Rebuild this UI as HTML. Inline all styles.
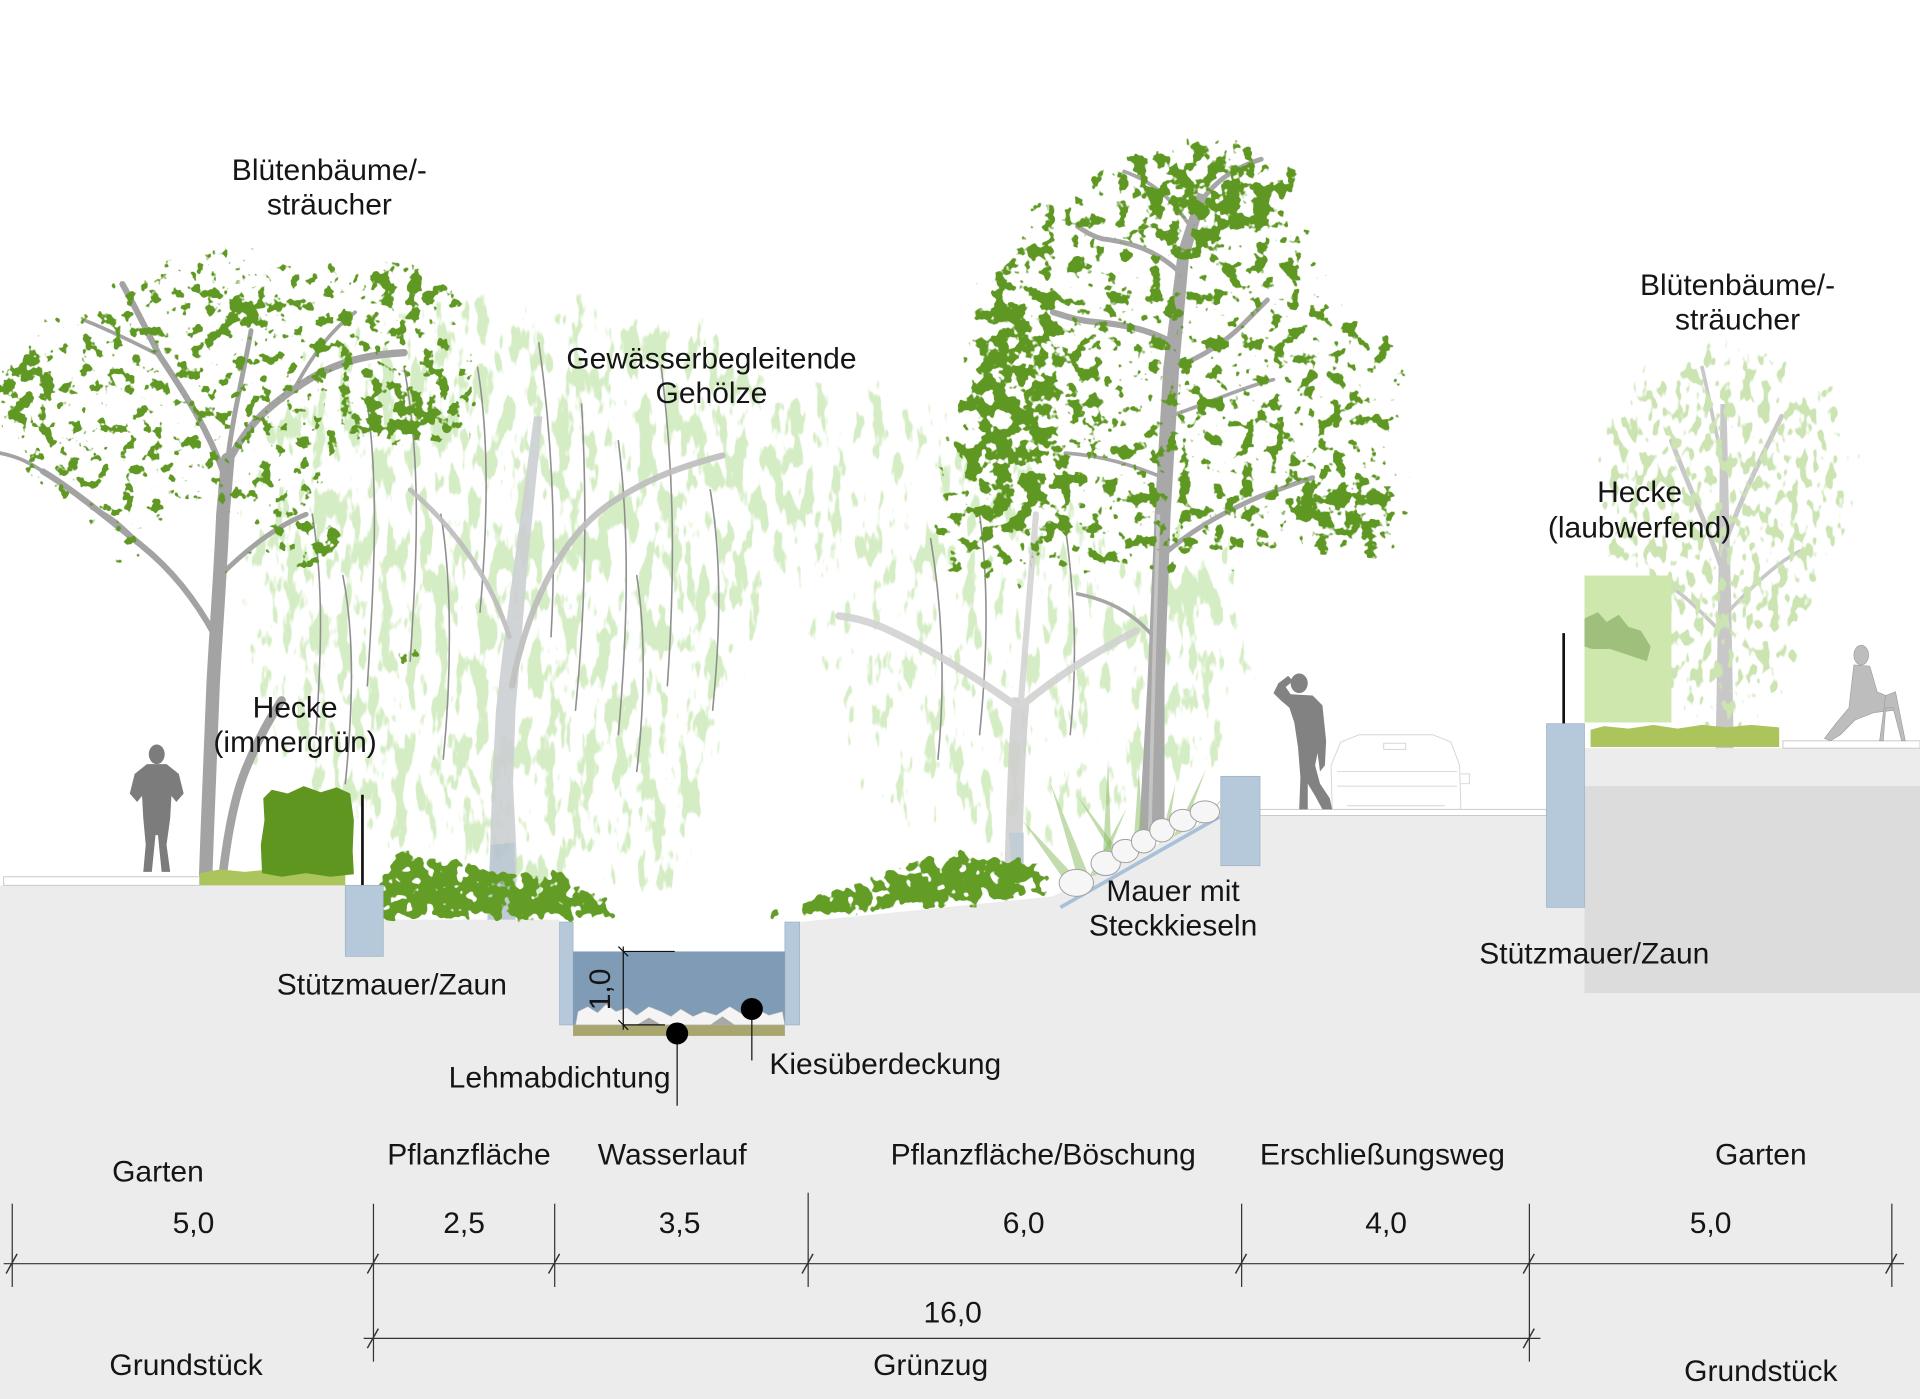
<!DOCTYPE html>
<html><head><meta charset="utf-8"><style>
html,body{margin:0;padding:0;background:#fff;}
svg{display:block;}
text{font-family:"Liberation Sans",Arial,sans-serif;font-size:24.5px;fill:#151515;}
</style></head><body>
<svg xmlns="http://www.w3.org/2000/svg" width="1920" height="1399" viewBox="0 0 1568 1142.5" preserveAspectRatio="none">
<defs>
<filter id="fDark" filterUnits="userSpaceOnUse" x="0" y="0" width="1568" height="1143" color-interpolation-filters="sRGB">
 <feGaussianBlur in="SourceAlpha" stdDeviation="10" result="b"/>
 <feTurbulence type="fractalNoise" baseFrequency="0.09" numOctaves="3" seed="7" result="n"/>
 <feComposite in="n" in2="b" operator="arithmetic" k1="0" k2="1" k3="0.72" k4="-1.08" result="c"/>
 <feComponentTransfer in="c" result="t"><feFuncA type="linear" slope="20" intercept="-1.2"/></feComponentTransfer>
 <feFlood flood-color="#5f9822" result="col"/>
 <feComposite in="col" in2="t" operator="in"/>
</filter>
<filter id="fTall" filterUnits="userSpaceOnUse" x="0" y="0" width="1568" height="1143" color-interpolation-filters="sRGB">
 <feGaussianBlur in="SourceAlpha" stdDeviation="10" result="b"/>
 <feTurbulence type="fractalNoise" baseFrequency="0.08" numOctaves="3" seed="21" result="n"/>
 <feComposite in="n" in2="b" operator="arithmetic" k1="0" k2="1" k3="0.72" k4="-1.08" result="c"/>
 <feComponentTransfer in="c" result="t"><feFuncA type="linear" slope="20" intercept="-1.2"/></feComponentTransfer>
 <feFlood flood-color="#5e9721" result="col"/>
 <feComposite in="col" in2="t" operator="in"/>
</filter>
<filter id="fHaze" filterUnits="userSpaceOnUse" x="0" y="0" width="1568" height="1143" color-interpolation-filters="sRGB">
 <feGaussianBlur in="SourceAlpha" stdDeviation="18" result="b"/>
 <feTurbulence type="fractalNoise" baseFrequency="0.09 0.03" numOctaves="3" seed="11" result="n"/>
 <feComposite in="n" in2="b" operator="arithmetic" k1="0" k2="1" k3="0.72" k4="-1.03" result="c"/>
 <feComponentTransfer in="c" result="t"><feFuncA type="linear" slope="14" intercept="-0.7"/></feComponentTransfer>
 <feFlood flood-color="#d5edc4" result="col"/>
 <feComposite in="col" in2="t" operator="in"/>
</filter>
<filter id="fLight" filterUnits="userSpaceOnUse" x="0" y="0" width="1568" height="1143" color-interpolation-filters="sRGB">
 <feGaussianBlur in="SourceAlpha" stdDeviation="14" result="b"/>
 <feTurbulence type="fractalNoise" baseFrequency="0.13 0.07" numOctaves="2" seed="5" result="n"/>
 <feComposite in="n" in2="b" operator="arithmetic" k1="0" k2="1" k3="0.72" k4="-1.02" result="c"/>
 <feComponentTransfer in="c" result="t"><feFuncA type="linear" slope="14" intercept="-0.7"/></feComponentTransfer>
 <feFlood flood-color="#cbe4b2" result="col"/>
 <feComposite in="col" in2="t" operator="in"/>
</filter>
<filter id="fFern" filterUnits="userSpaceOnUse" x="0" y="0" width="1568" height="1143" color-interpolation-filters="sRGB">
 <feGaussianBlur in="SourceAlpha" stdDeviation="5" result="b"/>
 <feTurbulence type="fractalNoise" baseFrequency="0.11" numOctaves="2" seed="3" result="n"/>
 <feComposite in="n" in2="b" operator="arithmetic" k1="0" k2="1" k3="0.72" k4="-0.98" result="c"/>
 <feComponentTransfer in="c" result="t"><feFuncA type="linear" slope="20" intercept="-1.2"/></feComponentTransfer>
 <feFlood flood-color="#639d26" result="col"/>
 <feComposite in="col" in2="t" operator="in"/>
</filter>
</defs>

<rect x="0" y="0" width="1568" height="1142.5" fill="#ffffff"/>

<!-- willow haze -->
<g filter="url(#fHaze)">
 <polygon fill="#000" fill-opacity="0.78" points="205,320 240,285 290,258 350,238 420,232 480,240 540,245 600,262 640,292 660,335 652,385 642,435 632,500 612,560 602,620 592,680 565,745 520,748 480,705 460,745 420,748 380,722 340,705 300,705 260,695 232,645 214,565 203,485 198,400"/>
 <polygon fill="#000" fill-opacity="0.7" points="620,322 680,302 740,310 790,330 840,358 880,380 920,420 960,448 1005,470 1015,520 1000,565 990,610 970,650 930,680 880,700 830,715 790,705 745,695 705,655 682,600 662,540 642,470 630,400"/>
 <polygon fill="#000" fill-opacity="0.55" points="940,380 990,400 1030,430 1040,500 1030,570 1010,630 980,650 950,600"/>
 <polygon fill="#000" fill-opacity="0.5" points="170,430 215,430 220,520 225,640 210,700 180,700 170,600"/>
</g>

<!-- willow hanging branches -->
<g fill="none" stroke="#8f8f8f" stroke-width="1.3" stroke-linecap="round">
 <path d="M300,330 C310,400 305,480 300,560"/>
 <path d="M330,300 C345,380 340,460 335,540"/>
 <path d="M255,420 C265,480 262,540 258,600"/>
 <path d="M390,300 C400,360 398,430 392,500"/>
 <path d="M440,280 C450,350 455,430 450,520"/>
 <path d="M475,330 C480,420 478,500 470,580"/>
 <path d="M505,360 C515,440 512,520 505,600"/>
 <path d="M540,300 C550,380 552,460 545,560"/>
 <path d="M580,400 C590,460 588,520 582,580"/>
 <path d="M360,420 C370,480 368,560 362,620"/>
 <path d="M280,470 C290,520 288,580 282,640"/>
 <path d="M520,470 C528,520 526,580 520,630"/>
 <path d="M760,440 C770,500 772,560 766,620"/>
 <path d="M800,420 C808,480 806,540 800,600"/>
 <path d="M870,430 C878,490 880,540 874,600"/>
</g>
<!-- willow trunks -->
<g opacity="0.9">
 <polygon fill="#cdd0d3" points="398,752 421,752 422,700 419,640 421,580 426,520 431,460 437,400 443,340 436,340 428,400 420,460 412,520 405,580 402,640 400,700"/>
 <path d="M401,690 L420,688 L421,752 L398,752 Z" fill="#b8c5d0"/>
 <path d="M418,560 C430,500 455,440 500,410 C530,390 560,380 590,372" stroke="#bdbdbd" stroke-width="5" fill="none" stroke-linecap="round"/>
 <path d="M416,520 C400,470 370,430 335,400" stroke="#bdbdbd" stroke-width="4" fill="none" stroke-linecap="round"/>
 <path d="M827,718 C829,660 830,610 834,570" stroke="#d0d0d0" stroke-width="14" fill="none"/>
 <path d="M827,720 L836,720 L836,680 L824,680 Z" fill="#bcc8d2"/>
 <path d="M832,578 C800,555 760,530 720,512 C705,506 695,504 685,503" stroke="#d2d2d2" stroke-width="6" fill="none" stroke-linecap="round"/>
 <path d="M836,575 C860,555 890,535 928,515" stroke="#d2d2d2" stroke-width="6" fill="none" stroke-linecap="round"/>
 <path d="M834,570 C838,520 842,470 846,420" stroke="#d4d4d4" stroke-width="5" fill="none" stroke-linecap="round"/>
</g>

<!-- left tree branches -->
<g fill="none" stroke="#a3a3a3" stroke-linecap="round">
 <path d="M168,714 C170,660 172,600 174,560 C176,520 180,470 182,420 C184,400 185,385 186,375" stroke-width="11"/>
 <path d="M182,714 C186,680 192,650 200,630 C208,610 218,590 230,572" stroke-width="7"/>
 <path d="M185,380 C200,350 215,335 240,318 C265,300 290,290 330,288" stroke-width="6"/>
 <path d="M184,390 C170,350 150,320 130,290 C120,270 110,250 100,232" stroke-width="5"/>
 <path d="M186,375 C190,340 200,300 205,270" stroke-width="4"/>
 <path d="M176,520 C160,490 140,465 115,445 C90,425 60,400 35,385" stroke-width="5"/>
 <path d="M115,445 C100,430 90,420 75,415" stroke-width="3"/>
 <path d="M180,470 C200,450 225,430 250,420" stroke-width="4"/>
 <path d="M130,290 C110,280 90,270 70,262" stroke-width="3"/>
 <path d="M240,318 C255,290 270,270 290,255" stroke-width="3"/>
 <path d="M35,385 C20,375 10,372 0,370" stroke-width="3"/>
</g>
<!-- left tree crown -->
<g filter="url(#fDark)" fill="#000">
 <polygon fill-opacity="0.75" points="0,285 30,265 70,240 100,220 130,205 170,198 210,200 250,208 290,212 330,210 365,218 385,240 380,270 395,300 400,330 390,360 360,372 320,368 290,375 270,400 250,420 270,440 290,455 270,472 230,470 200,455 185,430 170,410 150,420 140,450 110,472 90,462 70,432 40,412 20,396 0,392"/>
 <ellipse cx="195" cy="255" rx="25" ry="16"/>
 <ellipse cx="330" cy="232" rx="32" ry="16"/>
 <ellipse cx="15" cy="320" rx="25" ry="32"/>
 <ellipse cx="330" cy="340" rx="45" ry="20"/>
 <ellipse cx="265" cy="438" rx="28" ry="14"/>
 <ellipse cx="335" cy="535" rx="25" ry="18" fill-opacity="0.85"/>
 <ellipse cx="183" cy="470" rx="8" ry="25" fill-opacity="0.9"/>
</g>

<!-- tall tree -->
<g fill="none" stroke="#a6a6a6" stroke-linecap="round">
 <path d="M958,280 C940,270 920,265 895,263 C880,262 870,258 860,255" stroke-width="5"/>
 <path d="M963,222 C945,205 925,198 900,195 C890,192 885,188 880,185" stroke-width="4"/>
 <path d="M960,300 C980,292 1000,280 1015,265 C1025,255 1030,250 1035,245" stroke-width="4"/>
 <path d="M948,455 C970,435 995,420 1030,405 C1050,398 1062,393 1072,390" stroke-width="4"/>
 <path d="M975,172 C990,150 1005,138 1030,130" stroke-width="4"/>
 <path d="M970,182 C955,160 940,148 918,140" stroke-width="3"/>
 <path d="M955,340 C985,330 1010,318 1040,310" stroke-width="3"/>
 <path d="M950,390 C925,380 900,372 870,370" stroke-width="3"/>
 <path d="M942,520 C925,500 905,490 880,485" stroke-width="3"/>
</g>
<polygon fill="#a8a8a8" points="930,684 951,684 951,560 956,420 963,300 971,210 986,160 978,157 962,205 950,300 943,420 937,560"/>
<path d="M939,680 L943,520 L946,420" stroke="#c4c4c4" stroke-width="3" fill="none"/>
<g filter="url(#fTall)" fill="#000">
 <polygon fill-opacity="0.78" points="985,104 1030,112 1075,132 1060,170 1085,200 1095,235 1125,255 1150,285 1150,330 1140,360 1158,395 1160,430 1140,468 1090,462 1050,452 1010,468 960,478 920,480 880,472 840,480 800,478 758,472 755,430 768,395 760,360 778,320 788,270 800,210 830,175 865,145 905,122 945,108"/>
 <ellipse cx="830" cy="330" rx="42" ry="105" fill-opacity="0.92"/>
 <ellipse cx="990" cy="160" rx="55" ry="40" fill-opacity="0.9"/>
 <ellipse cx="1090" cy="420" rx="45" ry="25" fill-opacity="0.88"/>
</g>

<!-- right tree -->
<g fill="none" stroke="#c8c8c8" stroke-linecap="round">
 <path d="M1408,470 C1395,430 1380,400 1365,360" stroke-width="4"/>
 <path d="M1410,440 C1425,400 1440,370 1455,340" stroke-width="4"/>
 <path d="M1408,380 C1400,350 1395,320 1390,300" stroke-width="3"/>
 <path d="M1409,520 C1390,500 1370,480 1350,470" stroke-width="3"/>
 <path d="M1411,500 C1430,480 1450,460 1470,450" stroke-width="3"/>
</g>
<polygon fill="#c8c8c8" points="1401,619 1416,619 1414,500 1412,420 1410,330 1405,330 1404,420 1403,500"/>
<g filter="url(#fLight)" fill="#000">
 <polygon fill-opacity="0.75" points="1300,340 1330,300 1370,280 1420,275 1470,290 1510,320 1530,360 1520,420 1500,470 1480,520 1460,570 1430,600 1380,600 1340,560 1310,500 1295,440 1290,390"/>
</g>
<!-- right hedge -->
<rect x="1294" y="470" width="71" height="120" fill="#cde7ad"/>
<path d="M1294,505 L1305,500 L1312,508 L1322,502 L1330,512 L1340,515 L1348,528 L1345,540 L1330,535 L1315,530 L1300,530 L1294,528 Z" fill="#9fbf7d"/>
<path d="M1299,596 L1310,593 L1330,595 L1350,592 L1370,595 L1390,592 L1410,594 L1430,592 L1453,594 L1453,610 L1299,610 Z" fill="#abc45c"/>

<!-- bamboo grass near tall tree -->
<g fill="#8fc06c" fill-opacity="0.55">
 <path d="M880,716 L858,640 L888,712 Z"/>
 <path d="M900,712 L905,620 L908,712 Z"/>
 <path d="M915,708 L880,650 L922,706 Z"/>
 <path d="M955,690 L985,628 L962,690 Z"/>
 <path d="M965,688 L1000,650 L970,692 Z"/>
 <path d="M925,700 L930,630 L935,700 Z"/>
 <path d="M870,720 L835,670 L878,716 Z"/>
 <path d="M945,695 L960,640 L952,696 Z"/>
 <path d="M890,715 L920,660 L897,716 Z"/>
</g>

<!-- ground -->
<polygon fill="#ececec" points="0,723 313,723 313,751 457,751 457,753 468,753 468,777 641,777 641,753 653,753 860,732 997,664 997,666 1263,666 1263,611 1568,611 1568,1142.5 0,1142.5"/>
<rect x="1294" y="642" width="274" height="169" fill="#dcdcdc"/>

<!-- path strips -->
<rect x="3" y="716" width="160" height="7" fill="#fff" stroke="#c9c9c9" stroke-width="0.8"/>
<rect x="1029" y="661" width="234" height="5" fill="#fff" stroke="#c9c9c9" stroke-width="0.8"/>
<rect x="1456" y="605" width="112" height="6" fill="#fff" stroke="#c9c9c9" stroke-width="0.8"/>
<!-- left green strip & hedge -->
<path d="M163,713 L180,710 L200,712 L230,709 L260,711 L282,710 L282,723 L163,723 Z" fill="#abc45c"/>
<path d="M215,652 L222,645 L235,648 L248,642 L262,647 L275,643 L286,648 L289,670 L288,695 L289,714 L270,716 L250,713 L230,716 L214,713 L213,690 L216,670 Z" fill="#5e9620"/>
<line x1="296" y1="649" x2="296" y2="723" stroke="#111" stroke-width="2.2"/>
<line x1="1277" y1="517" x2="1277" y2="591" stroke="#111" stroke-width="2.2"/>

<!-- ferns -->
<g filter="url(#fFern)" fill="#000">
 <polygon points="300,752 302,728 315,712 335,703 360,698 385,703 405,710 425,712 445,716 470,722 490,730 503,742 505,752"/>
 <ellipse cx="330" cy="702" rx="14" ry="10"/>
 <ellipse cx="455" cy="718" rx="14" ry="9"/>
 <polygon points="650,752 652,738 668,726 690,722 712,718 735,705 760,698 790,696 815,700 840,702 858,712 862,728 840,734 800,738 760,742 720,746 680,750"/>
 <ellipse cx="634" cy="744" rx="8" ry="8"/>
</g>

<!-- walls -->
<g fill="#b5c9db" stroke="#9db2c6" stroke-width="0.6">
 <rect x="282" y="723" width="31" height="58"/>
 <rect x="457" y="753" width="11" height="84"/>
 <rect x="641" y="753" width="12" height="84"/>
 <rect x="997" y="634" width="32" height="73"/>
 <rect x="1263" y="591" width="31" height="150"/>
</g>
<!-- water channel -->
<rect x="468" y="777" width="173" height="60" fill="#7f9bb6"/>
<rect x="468" y="837" width="173" height="9" fill="#a9a56f"/>
<path d="M470,837 L472,826 L480,822 L488,827 L495,820 L503,826 L512,823 L520,829 L530,822 L540,826 L548,830 L556,824 L566,830 L575,826 L585,829 L596,822 L606,828 L618,824 L628,829 L639,826 L641,837 Z" fill="#f4f4f4" stroke="#b0b0b0" stroke-width="0.5"/>
<path d="M520,837 L530,831 L540,837 Z M580,837 L590,830 L600,837 Z" fill="#a8a8a8"/>
<!-- 1,0 dim -->
<g stroke="#111" stroke-width="1">
 <line x1="509" y1="773" x2="509" y2="841"/>
 <line x1="509" y1="777" x2="551" y2="777"/>
 <line x1="509" y1="837" x2="543" y2="837"/>
 <line x1="505" y1="773" x2="513" y2="781"/>
 <line x1="505" y1="833" x2="513" y2="841"/>
</g>
<text transform="translate(498,808) rotate(-90)" text-anchor="middle" font-size="24">1,0</text>
<!-- callouts -->
<line x1="553" y1="844" x2="553" y2="903" stroke="#111" stroke-width="1"/>
<circle cx="553" cy="844" r="9" fill="#000"/>
<line x1="614" y1="824" x2="614" y2="866" stroke="#111" stroke-width="1"/>
<circle cx="614" cy="824" r="9" fill="#000"/>

<!-- sloped stone wall -->
<line x1="866" y1="741" x2="996" y2="667" stroke="#a9c1d8" stroke-width="3"/>
<g fill="#f6f6f6" stroke="#a0a0a0" stroke-width="0.8">
 <ellipse cx="879" cy="721" rx="14" ry="11"/>
 <ellipse cx="903" cy="705" rx="12" ry="10"/>
 <ellipse cx="919" cy="695" rx="11" ry="9.5"/>
 <ellipse cx="934" cy="687" rx="10" ry="9.5"/>
 <ellipse cx="949" cy="678" rx="10" ry="9.5"/>
 <ellipse cx="966" cy="670" rx="11" ry="9"/>
 <ellipse cx="984" cy="663" rx="12" ry="9"/>
</g>

<!-- car outline -->
<g fill="none" stroke="#d6d6d6" stroke-width="0.8">
 <path d="M1088,661 L1087,625 L1095,606 L1110,600 L1170,600 L1185,606 L1192,625 L1193,661"/>
 <path d="M1092,630 L1190,630"/>
 <path d="M1092,642 L1190,642"/>
 <path d="M1100,658 L1180,658"/>
 <rect x="1130" y="607" width="18" height="5"/>
 <path d="M1193,632 L1200,632 L1200,640 L1193,640"/>
</g>

<!-- persons -->
<g fill="#7c7c7c">
 <ellipse cx="128" cy="616" rx="6.5" ry="8"/>
 <polygon points="120,624 136,624 146,632 150,648 144,655 140,650 139,668 136,690 139,712 132,712 129,682 127,682 124,712 117,712 119,690 117,668 116,650 112,655 106,648 110,632"/>
</g>
<g fill="#828282">
 <ellipse cx="1061" cy="558" rx="7" ry="8"/>
 <polygon points="1054,567 1072,568 1080,576 1083,605 1082,625 1078,630 1076,615 1074,625 1078,640 1086,652 1088,661 1080,661 1074,650 1068,640 1068,661 1061,661 1062,635 1060,610 1057,590 1053,578 1046,572 1040,566 1044,558 1052,552 1056,556 1050,561"/>
</g>
<g fill="#bdbdbd" stroke="#9a9a9a" stroke-width="0.5">
 <ellipse cx="1520" cy="535" rx="6" ry="8"/>
 <polygon points="1514,543 1527,544 1533,565 1545,570 1547,580 1530,582 1515,588 1503,600 1495,605 1490,603 1500,590 1510,578 1512,560"/>
 <path d="M1540,568 L1548,565 L1556,605 L1553,605 L1546,578 L1540,578 L1538,605 L1535,605 Z"/>
</g>

<!-- dimension lines -->
<g stroke="#333" stroke-width="1" fill="none">
 <line x1="3" y1="1032" x2="1555" y2="1032"/>
 <line x1="10" y1="983" x2="10" y2="1051"/>
 <line x1="305" y1="983" x2="305" y2="1112"/>
 <line x1="453" y1="983" x2="453" y2="1051"/>
 <line x1="660" y1="974" x2="660" y2="1051"/>
 <line x1="1014" y1="983" x2="1014" y2="1051"/>
 <line x1="1249" y1="983" x2="1249" y2="1112"/>
 <line x1="1545" y1="983" x2="1545" y2="1051"/>
 <line x1="297" y1="1093" x2="1258" y2="1093"/>
 <g stroke-width="1.2">
  <line x1="5" y1="1040" x2="14" y2="1024"/>
  <line x1="300" y1="1040" x2="309" y2="1024"/>
  <line x1="448" y1="1040" x2="457" y2="1024"/>
  <line x1="655" y1="1040" x2="664" y2="1024"/>
  <line x1="1009" y1="1040" x2="1018" y2="1024"/>
  <line x1="1244" y1="1040" x2="1253" y2="1024"/>
  <line x1="1540" y1="1040" x2="1549" y2="1024"/>
  <line x1="300" y1="1101" x2="309" y2="1085"/>
  <line x1="1244" y1="1101" x2="1253" y2="1085"/>
 </g>
</g>

<!-- labels -->
<g text-anchor="middle">
 <text x="269" y="147">Blütenbäume/-</text>
 <text x="269" y="175">sträucher</text>
 <text x="581" y="301">Gewässerbegleitende</text>
 <text x="581" y="329">Gehölze</text>
 <text x="1419" y="241">Blütenbäume/-</text>
 <text x="1419" y="269">sträucher</text>
 <text x="1339" y="410">Hecke</text>
 <text x="1339" y="439">(laubwerfend)</text>
 <text x="241" y="586">Hecke</text>
 <text x="241" y="614">(immergrün)</text>
 <text x="320" y="812">Stützmauer/Zaun</text>
 <text x="958" y="736">Mauer mit</text>
 <text x="958" y="764">Steckkieseln</text>
 <text x="1302" y="787">Stützmauer/Zaun</text>
 <text x="457" y="888">Lehmabdichtung</text>
 <text x="723" y="877">Kiesüberdeckung</text>
 <text x="129" y="965">Garten</text>
 <text x="383" y="951">Pflanzfläche</text>
 <text x="549" y="951">Wasserlauf</text>
 <text x="852" y="951">Pflanzfläche/Böschung</text>
 <text x="1129" y="951">Erschließungsweg</text>
 <text x="1438" y="951">Garten</text>
 <text x="158" y="1007">5,0</text>
 <text x="379" y="1007">2,5</text>
 <text x="555" y="1007">3,5</text>
 <text x="836" y="1007">6,0</text>
 <text x="1132" y="1007">4,0</text>
 <text x="1397" y="1007">5,0</text>
 <text x="778" y="1080">16,0</text>
 <text x="152" y="1123">Grundstück</text>
 <text x="760" y="1123">Grünzug</text>
 <text x="1438" y="1128">Grundstück</text>
</g>
</svg>
</body></html>
